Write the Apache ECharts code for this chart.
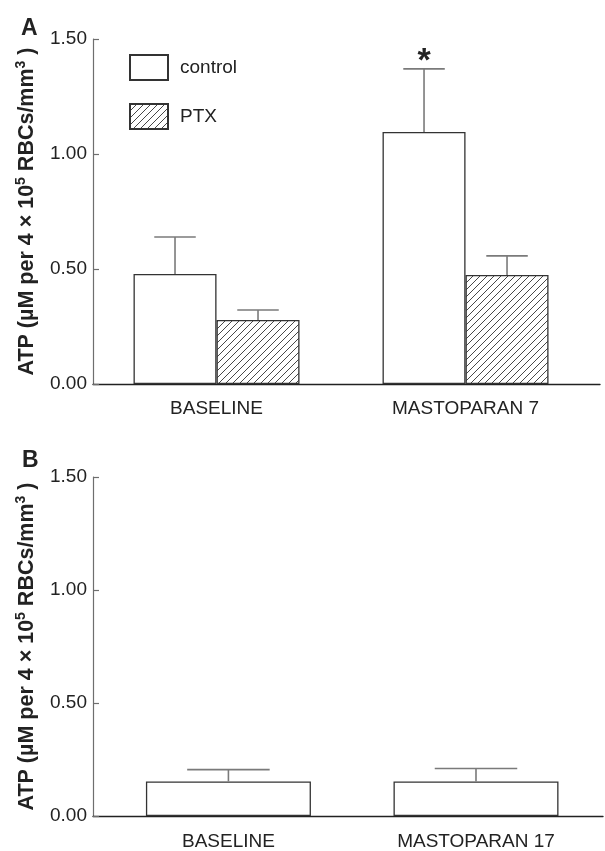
<!DOCTYPE html>
<html>
<head>
<meta charset="utf-8">
<script src="https://cdn.jsdelivr.net/npm/echarts@6/dist/echarts.min.js"></script>
<style>
html,body{margin:0;padding:0;background:#fff;}
#chart{width:605px;height:851px;}
</style>
</head>
<body>
<div id="chart"></div>
<script>
// ---------- data ----------
const catsA = ['BASELINE', 'MASTOPARAN 7'];
const controlA = [0.478, 1.096];
const controlAErr = [0.161, 0.274];
const ptxA = [0.278, 0.474];
const ptxAErr = [0.044, 0.083];
const sigA = ['', '*'];

const catsB = ['BASELINE', 'MASTOPARAN 17'];
const controlB = [0.153, 0.153];
const controlBErr = [0.052, 0.057];

const yTicks = [0, 0.5, 1.0, 1.5];
const legendNames = ['control', 'PTX'];

// ---------- style ----------
const FONT = '"Liberation Sans", Arial, Helvetica, sans-serif';
const BAR_A = 83, BAR_B = 165;
const EDGE = '#333';
const ERR = '#7a7a7a';

function hatch() {
  const c = document.createElement('canvas');
  c.width = 7; c.height = 7;
  const g = c.getContext('2d');
  g.fillStyle = '#fff'; g.fillRect(0, 0, 7, 7);
  g.strokeStyle = '#333'; g.lineWidth = 0.9;
  g.beginPath();
  g.moveTo(0, 7); g.lineTo(7, 0);
  g.moveTo(-1, 1); g.lineTo(1, -1);
  g.moveTo(6, 8); g.lineTo(8, 6);
  g.stroke();
  return c;
}
const hatchFill = { image: hatch(), repeat: 'repeat' };

const pts = (vals) => vals.map((v, i) => [i, v]);
const errPts = (vals, errs, sig) => vals.map((v, i) => [i, v, v + errs[i], sig ? sig[i] : '']);

function errSeries(grid, data, offset, barW) {
  return {
    type: 'custom', xAxisIndex: grid, yAxisIndex: grid, z: 5, silent: true,
    encode: { x: 0, y: [1, 2] },
    data: data,
    renderItem: function (params, api) {
      const x = api.value(0);
      const p1 = api.coord([x, api.value(1)]);
      const p2 = api.coord([x, api.value(2)]);
      const cx = p1[0] + offset;
      const cap = barW / 2;
      const st = { stroke: ERR, lineWidth: 1.6 };
      const ch = [
        { type: 'line', shape: { x1: cx, y1: p1[1], x2: cx, y2: p2[1] }, style: st },
        { type: 'line', shape: { x1: cx - cap / 2, y1: p2[1], x2: cx + cap / 2, y2: p2[1] }, style: st }
      ];
      const s = data[params.dataIndex][3];
      if (s) {
        ch.push({ type: 'text', x: cx, y: p2[1] + 10,
          style: { text: s, fontSize: 34, fontWeight: 'bold', fontFamily: FONT, fill: '#222', align: 'center', verticalAlign: 'bottom' } });
      }
      return { type: 'group', children: ch };
    }
  };
}

function yAxisCfg(grid) {
  return {
    gridIndex: grid, type: 'value', min: yTicks[0], max: yTicks[yTicks.length - 1], interval: 0.5,
    axisLine: { show: true, onZero: false, lineStyle: { color: '#6e6e6e', width: 1.2 } },
    axisTick: { show: true, inside: true, length: 6, lineStyle: { color: '#6e6e6e', width: 1.2 } },
    axisLabel: { margin: 6, fontSize: 19, fontFamily: FONT, color: '#222', formatter: v => v.toFixed(2) },
    splitLine: { show: false },
    name: 'ATP (µM per 4 × 10{sup|5} RBCs/mm{sup|3} )',
    nameLocation: 'middle', nameGap: 51,
    nameTextStyle: {
      fontSize: 21.5, fontWeight: 'bold', fontFamily: FONT, color: '#222', lineHeight: 25,
      rich: { sup: { fontSize: 14, fontWeight: 'bold', fontFamily: FONT, color: '#222', verticalAlign: 'top', lineHeight: 15 } }
    }
  };
}

function xAxisCfg(grid, cats, min, max, margin) {
  return {
    gridIndex: grid, type: 'value', min: min, max: max,
    axisLine: { show: true, onZero: false, lineStyle: { color: '#222', width: 1.4 } },
    axisTick: { show: false },
    splitLine: { show: false },
    axisLabel: { customValues: [0, 1], margin: margin, fontSize: 19, fontFamily: FONT, color: '#222',
      formatter: v => cats[Math.round(v)] || '' }
  };
}

const chart = echarts.init(document.getElementById('chart'), null, { renderer: 'canvas' });
chart.setOption({
  backgroundColor: '#fff',
  animation: false,
  title: [
    { text: 'A', left: 16, top: 12, textStyle: { fontSize: 23, fontWeight: 'bold', fontFamily: FONT, color: '#222' } },
    { text: 'B', left: 17, top: 444, textStyle: { fontSize: 23, fontWeight: 'bold', fontFamily: FONT, color: '#222' } }
  ],
  legend: {
    data: legendNames, orient: 'vertical', left: 124, top: 49,
    itemWidth: 38, itemHeight: 25, itemGap: 22, icon: 'rect',
    textStyle: { fontSize: 19, fontFamily: FONT, color: '#222', padding: [12, 0, 0, 7] },
    selectedMode: false
  },
  grid: [
    { left: 93, right: 5, top: 39, height: 345 },
    { left: 93, right: 2, top: 477, height: 343 }
  ],
  xAxis: [
    xAxisCfg(0, catsA, -0.496, 1.540, 15),
    xAxisCfg(1, catsB, -0.547, 1.513, 16)
  ],
  yAxis: [yAxisCfg(0), yAxisCfg(1)],
  series: [
    { name: 'control', type: 'bar', xAxisIndex: 0, yAxisIndex: 0, data: pts(controlA), barWidth: BAR_A, barGap: '0%',
      itemStyle: { color: '#fff', borderColor: EDGE, borderWidth: 1.3 } },
    { name: 'PTX', type: 'bar', xAxisIndex: 0, yAxisIndex: 0, data: pts(ptxA), barWidth: BAR_A, barGap: '0%',
      itemStyle: { color: hatchFill, borderColor: EDGE, borderWidth: 1.3 } },
    errSeries(0, errPts(controlA, controlAErr, sigA), -BAR_A / 2, BAR_A),
    errSeries(0, errPts(ptxA, ptxAErr), BAR_A / 2, BAR_A),
    { name: 'controlB', type: 'bar', xAxisIndex: 1, yAxisIndex: 1, data: pts(controlB), barWidth: BAR_B,
      itemStyle: { color: '#fff', borderColor: EDGE, borderWidth: 1.3 } },
    errSeries(1, errPts(controlB, controlBErr), 0, BAR_B)
  ]
});
</script>
</body>
</html>
